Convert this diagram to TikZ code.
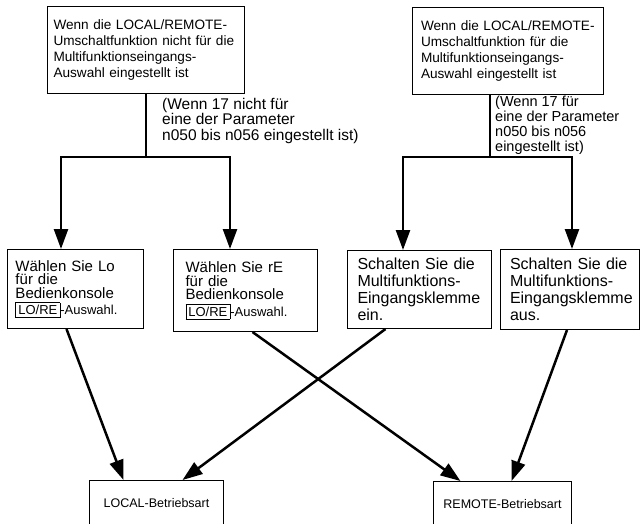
\documentclass[tikz,border=0pt]{standalone}
\usepackage{fontspec}
\setsansfont{Liberation Sans}
\usetikzlibrary{arrows.meta}
\setlength{\fboxsep}{2.5pt}
\setlength{\lineskiplimit}{-50pt}

\begin{document}
\begin{tikzpicture}[
    x=1pt, y=-1pt,
    cond/.style={draw, rectangle, line width=1pt, anchor=north west, inner xsep=6pt, inner ysep=0pt, align=left, font=\sffamily\fontsize{13.6}{16.3}\selectfont},
    note/.style={anchor=north west, inner sep=0pt, align=left},
    action/.style={draw, rectangle, line width=1pt, anchor=north west, inner xsep=8pt, inner ysep=0pt, align=left},
    mode/.style={draw, rectangle, line width=1pt, anchor=north west, inner sep=0pt, align=center, font=\sffamily\fontsize{12.5}{14}\selectfont},
    arrow/.style={-{Triangle[length=20pt, width=14pt]}, line width=2.5pt}
]
\useasboundingbox (0,0) rectangle (640,523);

% Conditions
\node (tl) [cond, text width=185pt, minimum height=87pt] at (47,6) {Wenn die LOCAL/REMOTE-\\Umschaltfunktion nicht für die\\Multifunktionseingangs-\\Auswahl eingestellt ist};
\node (tr) [cond, inner xsep=8.5pt, text width=174pt, minimum height=87pt] at (412,7) {Wenn die LOCAL/REMOTE-\\Umschaltfunktion für die\\Multifunktionseingangs-\\Auswahl eingestellt ist};

\node (nl) [note, font=\sffamily\fontsize{15.5}{15.5}\selectfont] at (162,98) {(Wenn 17 nicht für\\eine der Parameter\\n050 bis n056 eingestellt ist)};
\node (nr) [note, font=\sffamily\fontsize{14.5}{15}\selectfont] at (495,96) {(Wenn 17 für\\eine der Parameter\\n050 bis n056\\eingestellt ist)};

% Actions
\node (b1) [action, text width=120pt, minimum height=79pt, font=\sffamily\fontsize{15}{13.5}\selectfont] at (7,249) {Wählen Sie Lo\\für die\\Bedienkonsole\\[3pt]{\fontsize{13}{13}\selectfont\fbox{LO/RE}-Auswahl.}};
\node (b2) [action, inner xsep=12pt, text width=120pt, minimum height=82pt, font=\sffamily\fontsize{15}{13.5}\selectfont] at (173,249) {Wählen Sie rE\\für die\\Bedienkonsole\\[3pt]{\fontsize{13}{13}\selectfont\fbox{LO/RE}-Auswahl.}};
\node (b3) [action, inner xsep=10pt, text width=124pt, minimum height=78pt, font=\sffamily\fontsize{16}{17}\selectfont] at (347,250) {Schalten Sie die\\Multifunktions-\\Eingangsklemme\\ein.};
\node (b4) [action, inner xsep=9.5pt, text width=120pt, minimum height=80pt, font=\sffamily\fontsize{16}{17}\selectfont] at (500,249) {Schalten Sie die\\Multifunktions-\\Eingangsklemme\\aus.};

% Modes
\node (loc) [mode, minimum width=134pt, minimum height=46pt] at (89,480) {LOCAL-Betriebsart};
\node (rem) [mode, minimum width=138pt, minimum height=46pt] at (433,481) {REMOTE-Betriebsart};

% Junctions
\coordinate (jl) at (146,157);
\coordinate (jl1) at (61,157);
\coordinate (jl2) at (230,157);
\coordinate (jr) at (490,157);
\coordinate (jr1) at (403,157);
\coordinate (jr2) at (572,157);

% Paths
\draw [arrow] (jl |- tl.south) -- (jl) -| (jl1 |- b1.north);
\draw [arrow] (jl) -| (jl2 |- b2.north);
\draw [arrow] (jr |- tr.south) -- (jr) -| (jr1 |- b3.north);
\draw [arrow] (jr) -| (jr2 |- b4.north);

\draw [arrow] ([xshift=-9pt]b1.south) -- ([xshift=-33pt]loc.north);
\draw [arrow] ([xshift=7pt]b2.south) -- ([xshift=-42pt]rem.north);
\draw [arrow] ([xshift=-34pt]b3.south) -- ([xshift=26pt]loc.north);
\draw [arrow] ([xshift=-3pt]b4.south) -- ([xshift=9pt]rem.north);

\end{tikzpicture}
\end{document}
